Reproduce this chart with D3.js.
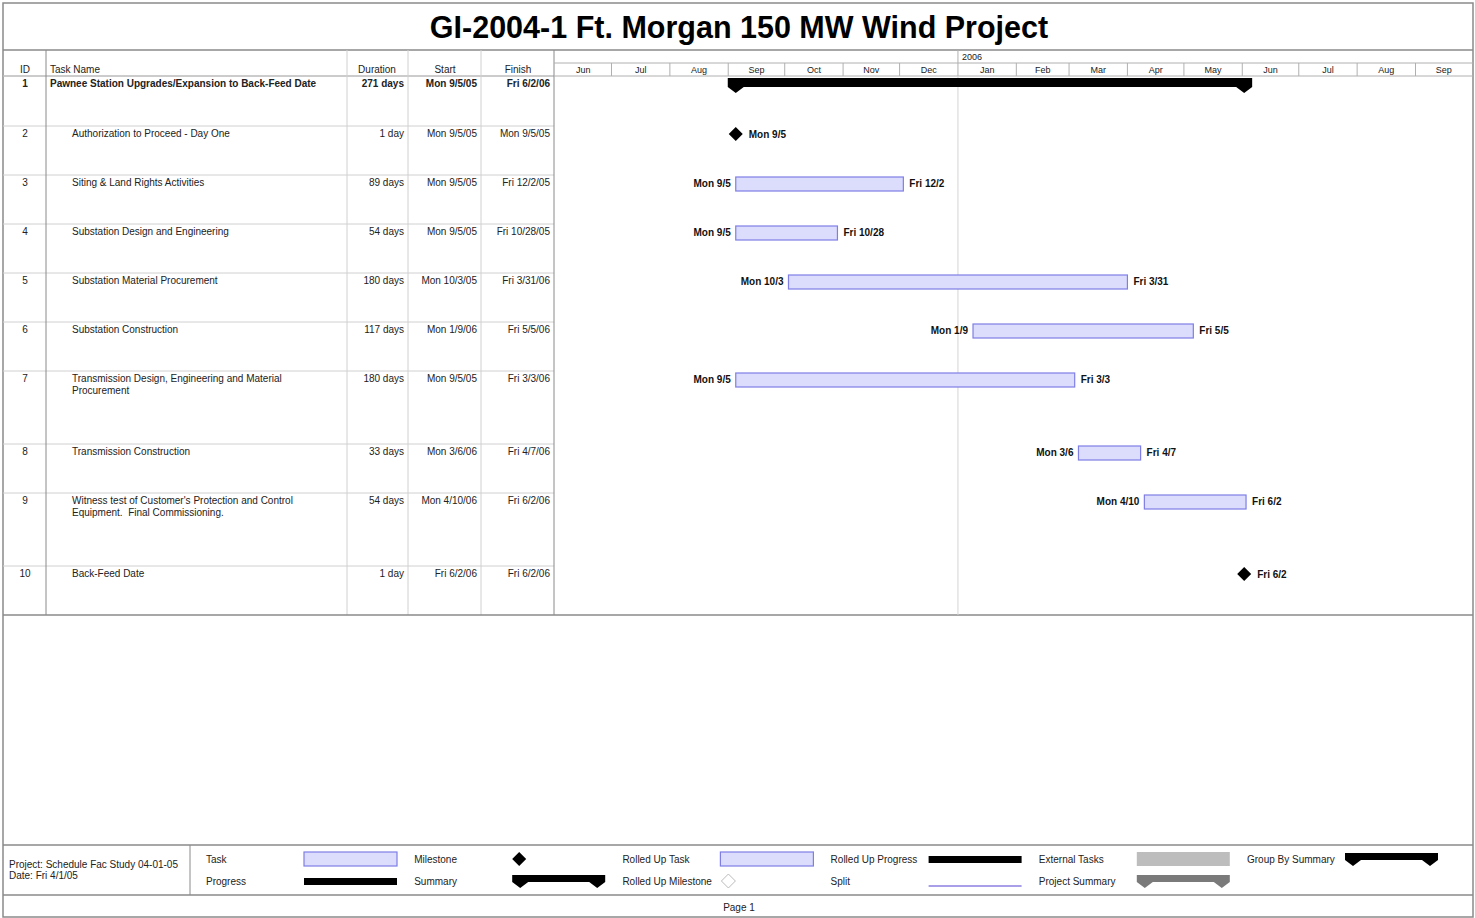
<!DOCTYPE html>
<html>
<head>
<meta charset="utf-8">
<script src="https://cdn.jsdelivr.net/npm/d3@7"></script>
<style>
  body { margin: 0; background: #fff; }
  svg { font-family: "Liberation Sans", Arial, sans-serif; }
</style>
</head>
<body>
<svg id="chart" width="1475" height="918"></svg>
<script>
// task table
var ids = [1, 2, 3, 4, 5, 6, 7, 8, 9, 10];
var taskNames = [
  ["Pawnee Station Upgrades/Expansion to Back-Feed Date"],
  ["Authorization to Proceed - Day One"],
  ["Siting & Land Rights Activities"],
  ["Substation Design and Engineering"],
  ["Substation Material Procurement"],
  ["Substation Construction"],
  ["Transmission Design, Engineering and Material", "Procurement"],
  ["Transmission Construction"],
  ["Witness test of Customer's Protection and Control", "Equipment.\u00a0 Final Commissioning."],
  ["Back-Feed Date"]
];
var durations = ["271 days", "1 day", "89 days", "54 days", "180 days", "117 days", "180 days", "33 days", "54 days", "1 day"];
var starts = ["9/5/05", "9/5/05", "9/5/05", "9/5/05", "10/3/05", "1/9/06", "9/5/05", "3/6/06", "4/10/06", "6/2/06"];
var finishes = ["6/2/06", "9/5/05", "12/2/05", "10/28/05", "3/31/06", "5/5/06", "3/3/06", "4/7/06", "6/2/06", "6/2/06"];
var startDays = ["Mon", "Mon", "Mon", "Mon", "Mon", "Mon", "Mon", "Mon", "Mon", "Fri"];
var finishDays = ["Fri", "Mon", "Fri", "Fri", "Fri", "Fri", "Fri", "Fri", "Fri", "Fri"];
var kinds = ["summary", "milestone", "task", "task", "task", "task", "task", "task", "task", "milestone"];

// timescale
var timeStart = "6/1/05", timeEnd = "10/1/06", yearMark = "1/1/06";

// legend
var legendLabels = [
  ["Task", "Progress"],
  ["Milestone", "Summary"],
  ["Rolled Up Task", "Rolled Up Milestone"],
  ["Rolled Up Progress", "Split"],
  ["External Tasks", "Project Summary"],
  ["Group By Summary", null]
];
var legendKinds = [
  ["task", "progress"],
  ["milestone", "summary"],
  ["task", "rolledMilestone"],
  ["progress", "split"],
  ["external", "projectSummary"],
  ["summary", null]
];

var parse = d3.timeParse("%m/%d/%y");
var fmtFull = function(d) { return (d.getMonth() + 1) + "/" + d.getDate() + "/" + d3.timeFormat("%y")(d); };
var fmtShort = function(d) { return (d.getMonth() + 1) + "/" + d.getDate(); };

var svg = d3.select("#chart");
var L = 3, R = 1473;
var titleBottom = 50, headBottom = 76;
var cols = {id: 46, name: 347, dur: 408, start: 481, finish: 554};

var barFill = "#dcdcfc", barStroke = "#7e7ee6";

// outer frame
svg.append("rect").attr("x", L).attr("y", 3).attr("width", R - L).attr("height", 914)
  .attr("fill", "none").attr("stroke", "#8a8a8a").attr("stroke-width", 1.5);

svg.append("text")
  .attr("x", 739).attr("y", 38)
  .attr("text-anchor", "middle")
  .attr("font-size", 30.5).attr("font-weight", "bold")
  .text("GI-2004-1 Ft. Morgan 150 MW Wind Project");

svg.append("line").attr("x1", L).attr("x2", R).attr("y1", titleBottom).attr("y2", titleBottom)
  .attr("stroke", "#8a8a8a").attr("stroke-width", 1.5);

// row layout
var rows = [];
var yy = headBottom;
taskNames.forEach(function(n, i) {
  var h = i === 0 ? 50 : 49 + 24 * (n.length - 1);
  rows.push({top: yy, h: h});
  yy += h;
});
var tableBottom = yy;

var x = d3.scaleTime()
  .domain([parse(timeStart), parse(timeEnd)])
  .range([cols.finish + 1, R - 1]);

var tasks = ids.map(function(id, i) {
  var s = parse(starts[i]), f = parse(finishes[i]);
  return {
    id: id, name: taskNames[i], dur: durations[i],
    start: s, finish: f, end: d3.timeDay.offset(f, 1),
    sd: startDays[i], fd: finishDays[i], kind: kinds[i],
    top: rows[i].top, h: rows[i].h
  };
});

// table grid
var grid = svg.append("g");
tasks.forEach(function(t) {
  grid.append("line").attr("x1", L).attr("x2", cols.finish).attr("y1", t.top).attr("y2", t.top)
    .attr("stroke", "#d0d0d0");
});
grid.append("line").attr("x1", L).attr("x2", cols.finish).attr("y1", headBottom).attr("y2", headBottom)
  .attr("stroke", "#b0b0b0");
[cols.name, cols.dur, cols.start].forEach(function(c) {
  grid.append("line").attr("x1", c).attr("x2", c).attr("y1", titleBottom).attr("y2", tableBottom)
    .attr("stroke", "#d0d0d0");
});
[cols.id, cols.finish].forEach(function(c) {
  grid.append("line").attr("x1", c).attr("x2", c).attr("y1", titleBottom).attr("y2", tableBottom)
    .attr("stroke", "#8a8a8a");
});
svg.append("line").attr("x1", L).attr("x2", R).attr("y1", tableBottom).attr("y2", tableBottom)
  .attr("stroke", "#8a8a8a").attr("stroke-width", 1.5);

// table header
var hdr = svg.append("g").attr("font-size", 10).attr("fill", "#222");
hdr.append("text").attr("x", 25).attr("y", 73).attr("text-anchor", "middle").text("ID");
hdr.append("text").attr("x", 50).attr("y", 73).text("Task Name");
hdr.append("text").attr("x", 377).attr("y", 73).attr("text-anchor", "middle").text("Duration");
hdr.append("text").attr("x", 445).attr("y", 73).attr("text-anchor", "middle").text("Start");
hdr.append("text").attr("x", 518).attr("y", 73).attr("text-anchor", "middle").text("Finish");

// table rows
var rowG = svg.append("g").selectAll("g").data(tasks).enter().append("g")
  .attr("font-size", 10).attr("fill", "#222")
  .attr("font-weight", function(d) { return d.kind === "summary" ? "bold" : null; })
  .attr("transform", function(d) { return "translate(0," + d.top + ")"; });
rowG.append("text").attr("x", 25).attr("y", 11).attr("text-anchor", "middle").text(function(d) { return d.id; });
rowG.append("text").attr("x", function(d) { return d.kind === "summary" ? 50 : 72; }).attr("y", 11)
  .selectAll("tspan").data(function(d) { return d.name; }).enter().append("tspan")
    .attr("x", function() { return d3.select(this.parentNode).attr("x"); })
    .attr("dy", function(d, i) { return i ? 12 : 0; })
    .text(function(d) { return d; });
rowG.append("text").attr("x", 404).attr("y", 11).attr("text-anchor", "end").text(function(d) { return d.dur; });
rowG.append("text").attr("x", 477).attr("y", 11).attr("text-anchor", "end")
  .text(function(d) { return d.sd + " " + fmtFull(d.start); });
rowG.append("text").attr("x", 550).attr("y", 11).attr("text-anchor", "end")
  .text(function(d) { return d.fd + " " + fmtFull(d.finish); });

// timescale header
var months = d3.timeMonth.range(parse(timeStart), parse(timeEnd));
var th = svg.append("g");
th.append("line").attr("x1", cols.finish).attr("x2", R).attr("y1", 63).attr("y2", 63).attr("stroke", "#b0b0b0");
th.append("line").attr("x1", cols.finish).attr("x2", R).attr("y1", headBottom).attr("y2", headBottom).attr("stroke", "#b0b0b0");
th.append("line").attr("x1", x(parse(yearMark))).attr("x2", x(parse(yearMark)))
  .attr("y1", titleBottom).attr("y2", 63).attr("stroke", "#b0b0b0");
th.append("text").attr("x", x(parse(yearMark)) + 4).attr("y", 60).attr("font-size", 9).attr("fill", "#222")
  .text(d3.timeFormat("%Y")(parse(yearMark)));
th.selectAll(".mline").data(months.slice(1)).enter().append("line")
  .attr("x1", function(d) { return x(d); }).attr("x2", function(d) { return x(d); })
  .attr("y1", 63).attr("y2", headBottom).attr("stroke", "#b0b0b0");
th.selectAll(".mlab").data(months).enter().append("text")
  .attr("x", function(d) { return (x(d) + x(d3.timeMonth.offset(d, 1))) / 2; })
  .attr("y", 73).attr("text-anchor", "middle").attr("font-size", 9).attr("fill", "#222")
  .text(d3.timeFormat("%b"));

// year divider through the chart
svg.append("line").attr("x1", x(parse(yearMark))).attr("x2", x(parse(yearMark)))
  .attr("y1", headBottom).attr("y2", tableBottom).attr("stroke", "#d4d4d4");

function summaryPath(x0, x1, top, h, cap) {
  var b = top + h;
  return "M" + (x0 - 8) + "," + top + "L" + (x1 + 8) + "," + top + "L" + (x1 + 8) + "," + b +
    "L" + x1 + "," + (b + cap) + "L" + (x1 - 8) + "," + b + "L" + (x0 + 8) + "," + b +
    "L" + x0 + "," + (b + cap) + "L" + (x0 - 8) + "," + b + "Z";
}
function diamond(cx, cy, r) {
  return "M" + cx + "," + (cy - r) + "L" + (cx + r) + "," + cy + "L" + cx + "," + (cy + r) + "L" + (cx - r) + "," + cy + "Z";
}

// gantt marks
var gantt = svg.append("g");
tasks.forEach(function(t) {
  var x0 = x(t.start), x1 = x(t.end);
  if (t.kind === "summary") {
    gantt.append("path").attr("d", summaryPath(x0, x(t.finish), t.top + 2, 9, 6)).attr("fill", "#000");
  } else if (t.kind === "milestone") {
    var cy = t.top + 8;
    gantt.append("path").attr("d", diamond(x0, cy, 7)).attr("fill", "#000");
    gantt.append("text").attr("x", x0 + 13).attr("y", cy + 3.5)
      .attr("font-size", 10).attr("font-weight", "bold").attr("fill", "#111")
      .text(t.sd + " " + fmtShort(t.start));
  } else {
    var top = t.top + 2;
    gantt.append("rect").attr("x", x0).attr("y", top).attr("width", x1 - x0).attr("height", 14)
      .attr("fill", barFill).attr("stroke", barStroke).attr("stroke-width", 1.2);
    gantt.append("text").attr("x", x0 - 5).attr("y", top + 10).attr("text-anchor", "end")
      .attr("font-size", 10).attr("font-weight", "bold").attr("fill", "#111")
      .text(t.sd + " " + fmtShort(t.start));
    gantt.append("text").attr("x", x1 + 6).attr("y", top + 10)
      .attr("font-size", 10).attr("font-weight", "bold").attr("fill", "#111")
      .text(t.fd + " " + fmtShort(t.finish));
  }
});

// legend box
var legTop = 845, legBottom = 895;
svg.append("line").attr("x1", L).attr("x2", R).attr("y1", legTop).attr("y2", legTop)
  .attr("stroke", "#8a8a8a").attr("stroke-width", 1.5);
svg.append("line").attr("x1", L).attr("x2", R).attr("y1", legBottom).attr("y2", legBottom)
  .attr("stroke", "#8a8a8a").attr("stroke-width", 1.5);
svg.append("line").attr("x1", 190).attr("x2", 190).attr("y1", legTop).attr("y2", legBottom)
  .attr("stroke", "#8a8a8a");
svg.append("text").attr("x", 9).attr("y", 868).attr("font-size", 10).attr("fill", "#222")
  .text("Project: Schedule Fac Study 04-01-05");
svg.append("text").attr("x", 9).attr("y", 879).attr("font-size", 10).attr("fill", "#222")
  .text("Date: Fri 4/1/05");

var leg = svg.append("g").attr("font-size", 10).attr("fill", "#222");
legendLabels.forEach(function(col, c) {
  var lx = 206 + c * 208.2, sx = lx + 98, sw = 93;
  col.forEach(function(label, r) {
    if (!label) return;
    var cy = 859 + r * 22;
    leg.append("text").attr("x", lx).attr("y", cy + 3.5).text(label);
    var k = legendKinds[c][r];
    if (k === "task") {
      leg.append("rect").attr("x", sx).attr("y", cy - 7).attr("width", sw).attr("height", 14)
        .attr("fill", barFill).attr("stroke", barStroke).attr("stroke-width", 1.2);
    } else if (k === "progress") {
      leg.append("rect").attr("x", sx).attr("y", cy - 3).attr("width", sw).attr("height", 7).attr("fill", "#000");
    } else if (k === "milestone") {
      leg.append("path").attr("d", diamond(sx + 7, cy, 7)).attr("fill", "#000");
    } else if (k === "summary") {
      leg.append("path").attr("d", summaryPath(sx + 8, sx + sw - 8, cy - 6, 7, 6)).attr("fill", "#000");
    } else if (k === "rolledMilestone") {
      leg.append("path").attr("d", diamond(sx + 8, cy, 7)).attr("fill", "#fff").attr("stroke", "#bbb");
    } else if (k === "split") {
      leg.append("line").attr("x1", sx).attr("x2", sx + sw).attr("y1", cy + 5).attr("y2", cy + 5)
        .attr("stroke", "#a99ee8").attr("stroke-width", 2);
    } else if (k === "external") {
      leg.append("rect").attr("x", sx).attr("y", cy - 7).attr("width", sw).attr("height", 14).attr("fill", "#bdbdbd");
    } else if (k === "projectSummary") {
      leg.append("path").attr("d", summaryPath(sx + 8, sx + sw - 8, cy - 6, 7, 6)).attr("fill", "#7a7a7a");
    }
  });
});

svg.append("text").attr("x", 739).attr("y", 911).attr("text-anchor", "middle")
  .attr("font-size", 10).attr("fill", "#222").text("Page 1");
</script>
</body>
</html>
